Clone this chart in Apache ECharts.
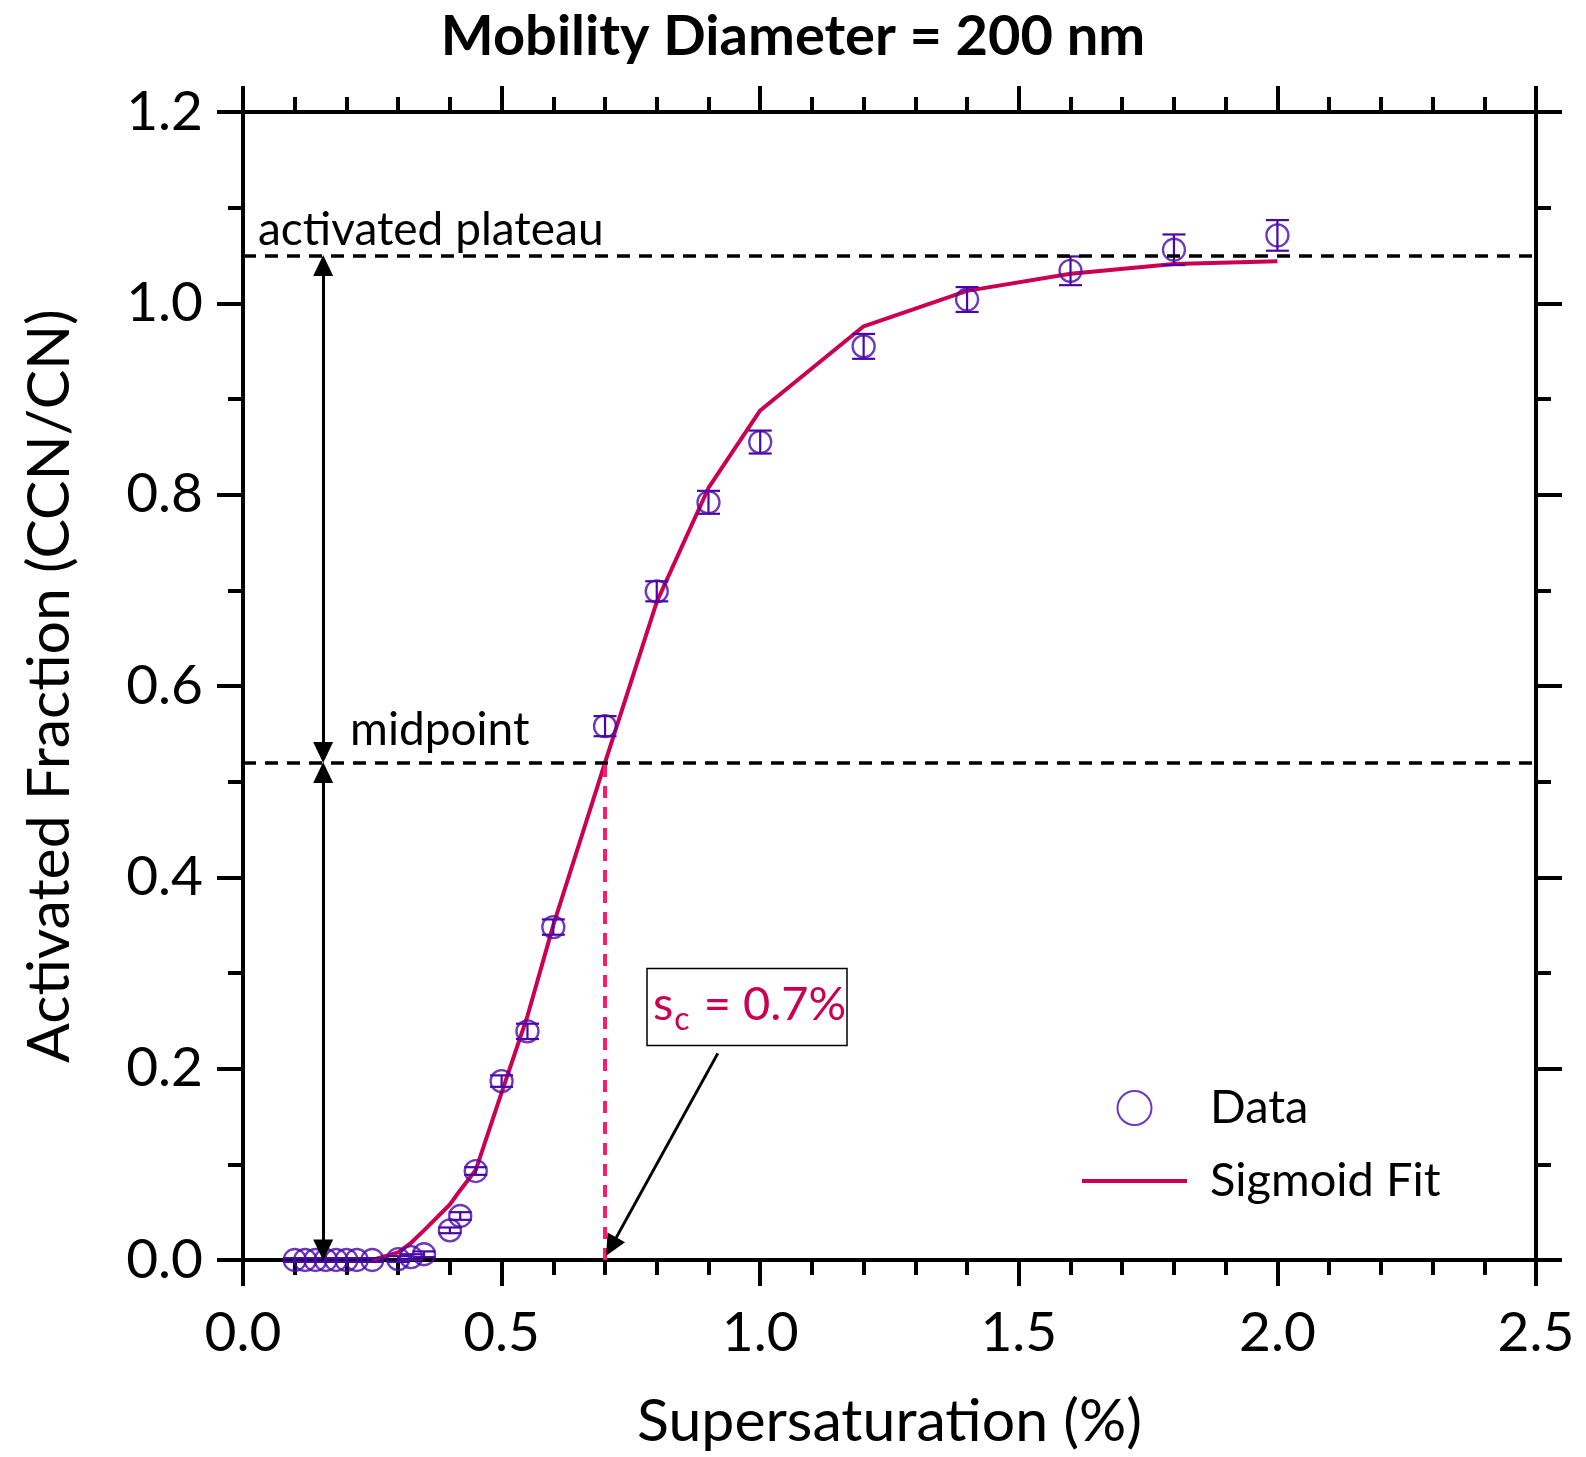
<!DOCTYPE html>
<html>
<head>
<meta charset="utf-8">
<script src="https://cdn.jsdelivr.net/npm/echarts@6/dist/echarts.min.js"></script>
<style>
html, body { margin: 0; padding: 0; background: #fff; }
#chart { width: 1586px; height: 1457px; }
</style>
</head>
<body>
<div id="chart"></div>
<script>
// measured points (supersaturation %, activated fraction, error)
var supersat = [0.1, 0.12, 0.14, 0.16, 0.18, 0.2, 0.22, 0.25, 0.3, 0.325, 0.35, 0.4, 0.42, 0.45, 0.5, 0.55, 0.6, 0.7, 0.8, 0.9, 1.0, 1.2, 1.4, 1.6, 1.8, 2.0];
var actFrac = [0, 0, 0, 0, 0, 0, 0, 0, 0.001, 0.003, 0.006, 0.031, 0.046, 0.093, 0.187, 0.239, 0.348, 0.558, 0.699, 0.792, 0.855, 0.955, 1.004, 1.034, 1.056, 1.071];
var actErr = [0.002, 0.002, 0.002, 0.002, 0.002, 0.002, 0.002, 0.002, 0.003, 0.003, 0.003, 0.003, 0.004, 0.004, 0.006, 0.008, 0.008, 0.0105, 0.0105, 0.012, 0.012, 0.013, 0.013, 0.015, 0.016, 0.016];

// sigmoid fit evaluated at the data points
var fitX = [0.25, 0.3, 0.325, 0.35, 0.4, 0.42, 0.45, 0.5, 0.55, 0.6, 0.7, 0.8, 0.9, 1.0, 1.2, 1.4, 1.6, 1.8, 2.0];
var fitY = [0.0, 0.008, 0.018, 0.031, 0.058, 0.073, 0.094, 0.175, 0.255, 0.35, 0.52, 0.688, 0.807, 0.888, 0.976, 1.013, 1.031, 1.041, 1.044];

var plateau = 1.05;
var midpoint = 0.52;
var critSS = 0.7;
var arrowX = 0.155;

var purple = '#4a06aa';
var crimson = '#cc0052';
var pink = '#ff1a6e';
var font = 'Lato';

var chart = echarts.init(document.getElementById('chart'));

function makeAxis(pos, interval, minorSplit, max, showLabel, margin) {
    return {
        type: 'value',
        position: pos,
        min: 0,
        max: max,
        interval: interval,
        axisLine: { show: true, onZero: false, lineStyle: { color: '#000', width: 4 } },
        axisTick: { show: true, inside: false, length: 26, lineStyle: { color: '#000', width: 4 } },
        minorTick: { show: true, splitNumber: minorSplit, length: 15, lineStyle: { color: '#000', width: 4 } },
        splitLine: { show: false },
        minorSplitLine: { show: false },
        axisLabel: {
            show: showLabel,
            margin: margin,
            fontFamily: font,
            fontSize: 55,
            color: '#000',
            formatter: function(v) { return v.toFixed(1); }
        }
    };
}

var xBottom = makeAxis('bottom', 0.5, 5, 2.5, true, 46);
xBottom.name = 'Supersaturation (%)';
xBottom.nameLocation = 'middle';
xBottom.nameGap = 132;
xBottom.nameTextStyle = { fontFamily: font, fontSize: 59, color: '#000' };

var yLeft = makeAxis('left', 0.2, 2, 1.2, true, 40);
yLeft.name = 'Activated Fraction (CCN/CN)';
yLeft.nameLocation = 'middle';
yLeft.nameGap = 164;
yLeft.nameTextStyle = { fontFamily: font, fontSize: 59, color: '#000' };

var dataPts = supersat.map(function(x, i) { return [x, actFrac[i]]; });
var errPts = supersat.map(function(x, i) { return [x, actFrac[i] - actErr[i], actFrac[i] + actErr[i]]; });
var fitPts = fitX.map(function(x, i) { return [x, fitY[i]]; });

var dashBlack = { color: '#000', width: 3.5, type: [13, 9] };
var solidBlack = { color: '#000', width: 3, type: 'solid' };
var headH = 0.0105; // half an arrowhead, in y units

var option = {
    animation: false,
    backgroundColor: '#fff',
    textStyle: { fontFamily: font },
    title: {
        text: 'Mobility Diameter = 200 nm',
        left: 'center',
        top: 4,
        textStyle: { fontFamily: font, fontSize: 56, fontWeight: 'bold', color: '#000' }
    },
    grid: { left: 243, top: 112, right: 50, bottom: 197, outerBoundsMode: 'none' },
    legend: {
        data: [
            { name: 'Data' },
            { name: 'Sigmoid Fit', icon: 'path://M0,0 L105,0 L105,4 L0,4 Z' }
        ],
        orient: 'vertical',
        left: 1082,
        top: 1083,
        padding: 0,
        itemWidth: 105,
        itemHeight: 34,
        itemGap: 23,
        textStyle: { fontFamily: font, fontSize: 47, color: '#000', lineHeight: 50, padding: [0, 0, 0, 18] }
    },
    xAxis: [xBottom, makeAxis('top', 0.5, 5, 2.5, false, 0)],
    yAxis: [yLeft, makeAxis('right', 0.2, 2, 1.2, false, 0)],
    series: [
        {
            name: 'Sigmoid Fit',
            type: 'line',
            data: fitPts,
            symbol: 'none',
            z: 3,
            lineStyle: { color: crimson, width: 4 },
            itemStyle: { color: crimson },
            markLine: {
                silent: true,
                symbol: 'none',
                precision: 4,
                symbolSize: [20, 21],
                label: { show: false },
                emphasis: { disabled: true },
                data: [
                    { yAxis: plateau, lineStyle: dashBlack },
                    { yAxis: midpoint, lineStyle: dashBlack },
                    [
                        { coord: [critSS, 0], lineStyle: { color: pink, width: 4, type: [12, 9] } },
                        { coord: [critSS, midpoint] }
                    ],
                    [
                        { coord: [arrowX, headH], symbol: 'triangle', lineStyle: solidBlack },
                        { coord: [arrowX, midpoint - headH], symbol: 'triangle' }
                    ],
                    [
                        { coord: [arrowX, midpoint + headH], symbol: 'triangle', lineStyle: solidBlack },
                        { coord: [arrowX, plateau - headH], symbol: 'triangle' }
                    ],
                    [
                        { coord: [0.918, 0.216], symbol: 'none', lineStyle: solidBlack },
                        { coord: [0.712, 0.014], symbol: 'triangle' }
                    ]
                ]
            }
        },
        {
            name: 'Data',
            type: 'scatter',
            data: dataPts,
            symbol: 'circle',
            symbolSize: 22,
            z: 4,
            itemStyle: { color: 'rgba(0,0,0,0)', borderColor: purple, borderWidth: 2.3 }
        },
        {
            name: 'err',
            type: 'custom',
            data: errPts,
            encode: { x: 0, y: [1, 2] },
            z: 4,
            renderItem: function(params, api) {
                var x = api.value(0);
                var lo = api.coord([x, api.value(1)]);
                var hi = api.coord([x, api.value(2)]);
                var half = 11.5;
                var st = { stroke: purple, lineWidth: 2.2 };
                return {
                    type: 'group',
                    children: [
                        { type: 'line', shape: { x1: lo[0], y1: lo[1], x2: hi[0], y2: hi[1] }, style: st },
                        { type: 'line', shape: { x1: lo[0] - half, y1: lo[1], x2: lo[0] + half, y2: lo[1] }, style: st },
                        { type: 'line', shape: { x1: hi[0] - half, y1: hi[1], x2: hi[0] + half, y2: hi[1] }, style: st }
                    ]
                };
            }
        }
    ]
};

chart.setOption(option);

// text annotations anchored to data coordinates (anchors are text baselines)
var annFont = 46;
var pPlateau = chart.convertToPixel({ seriesIndex: 0 }, [0.029, 1.06]);
var pMid = chart.convertToPixel({ seriesIndex: 0 }, [0.207, 0.537]);
var pBox = chart.convertToPixel({ seriesIndex: 0 }, [0.9745, 0.2645]);

chart.setOption({
    graphic: [
        {
            type: 'text', left: pPlateau[0], top: pPlateau[1] - 0.84 * annFont,
            style: { text: 'activated plateau', fontFamily: font, fontSize: annFont, fill: '#000' }
        },
        {
            type: 'text', left: pMid[0], top: pMid[1] - 0.84 * annFont,
            style: { text: 'midpoint', fontFamily: font, fontSize: annFont, fill: '#000' }
        },
        {
            type: 'rect',
            shape: { x: pBox[0] - 100, y: pBox[1] - 38.5, width: 200, height: 77 },
            style: { fill: '#fff', stroke: '#000', lineWidth: 1.5 },
            z: 10
        },
        {
            type: 'text', x: pBox[0] - 94, y: pBox[1] - 2, z: 11,
            style: {
                text: '{m|s}{c|c}{m| = 0.7%}',
                verticalAlign: 'middle',
                rich: {
                    m: { fontFamily: font, fontSize: 47, fill: crimson, color: crimson },
                    c: { fontFamily: font, fontSize: 32, fill: crimson, color: crimson, padding: [30, 2, 0, 1] }
                }
            }
        }
    ]
});
</script>
</body>
</html>
